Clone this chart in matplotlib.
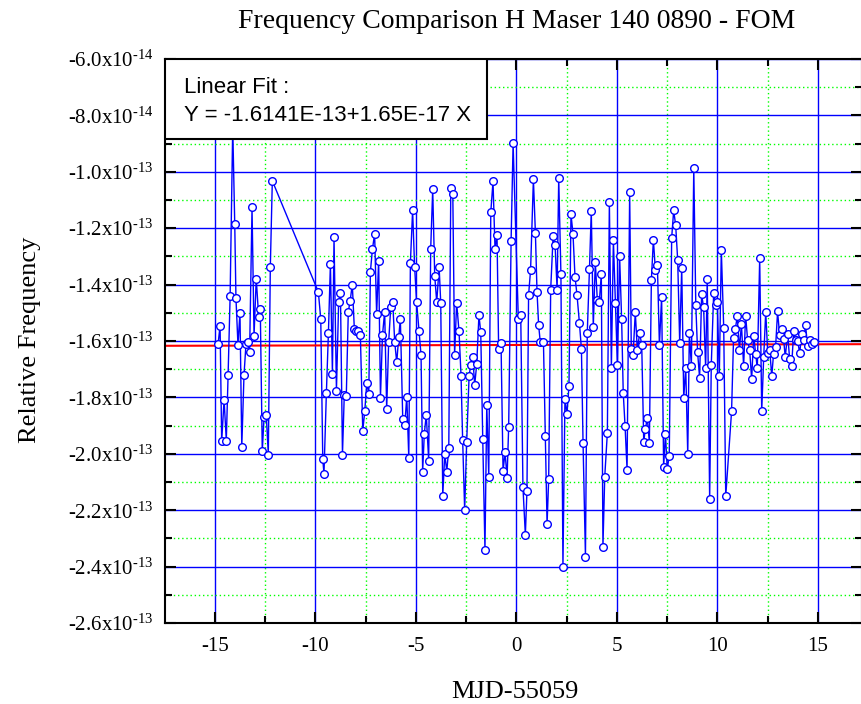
import numpy as np
import matplotlib
matplotlib.use("Agg")
import matplotlib.pyplot as plt
from matplotlib.ticker import MultipleLocator, FuncFormatter
from matplotlib.patches import Rectangle

# Datos: MJD-55059 (dias) y frecuencia relativa (x1e-14)
mjd_offset = [
    -14.84, -14.74, -14.66, -14.54, -14.43, -14.34, -14.24, -14.11, -14.01, -13.95,
    -13.85, -13.75, -13.66, -13.55, -13.45, -13.36, -13.27, -13.15, -13.05, -12.94,
    -12.82, -12.74, -12.64, -12.55, -12.44, -12.34, -12.24, -12.14,
    -9.85, -9.73, -9.63, -9.57, -9.45, -9.35, -9.25, -9.15, -9.07, -8.95,
    -8.84, -8.75, -8.65, -8.56, -8.46, -8.36, -8.27, -8.16, -8.06, -7.97,
    -7.86, -7.76, -7.64, -7.54, -7.44, -7.34, -7.26, -7.16, -7.05, -6.95,
    -6.85, -6.76, -6.66, -6.55, -6.45, -6.35, -6.25, -6.15, -6.05, -5.95,
    -5.85, -5.77, -5.65, -5.55, -5.45, -5.35, -5.27, -5.16, -5.06,
    -4.96, -4.84, -4.74, -4.66, -4.58, -4.48, -4.36, -4.26, -4.16, -4.06,
    -3.96, -3.84, -3.76, -3.66, -3.56, -3.46, -3.36, -3.26, -3.16, -3.07,
    -2.97, -2.85, -2.75, -2.67, -2.57, -2.47, -2.35, -2.27, -2.17, -2.07,
    -1.97, -1.86, -1.77, -1.67, -1.56, -1.47, -1.37, -1.27, -1.16, -1.06,
    -0.96, -0.88, -0.76, -0.66, -0.56, -0.46, -0.38, -0.26, -0.16,
    0.10, 0.22, 0.33, 0.45, 0.53, 0.61, 0.71, 0.85, 0.95, 1.03,
    1.11, 1.19, 1.35, 1.44, 1.53, 1.61, 1.71, 1.83, 1.93, 2.03,
    2.11, 2.22, 2.32, 2.42, 2.52, 2.62, 2.72, 2.82, 2.92, 3.02,
    3.14, 3.24, 3.32, 3.44, 3.53, 3.64, 3.73, 3.83, 3.93, 4.03,
    4.13, 4.23, 4.31, 4.40, 4.53, 4.63, 4.73, 4.83, 4.93,
    5.03, 5.14, 5.24, 5.32, 5.41, 5.51, 5.64, 5.72, 5.81, 5.92,
    6.02, 6.14, 6.24, 6.34, 6.42, 6.52, 6.62, 6.72, 6.82, 6.92,
    7.02, 7.12, 7.23, 7.33, 7.42, 7.51, 7.61, 7.73, 7.83, 7.93,
    8.03, 8.13, 8.23, 8.33, 8.43, 8.53, 8.61, 8.71, 8.83, 8.93,
    9.02, 9.12, 9.22, 9.32, 9.42, 9.50,
    9.62, 9.70, 9.82, 9.92, 10.00, 10.10, 10.20, 10.32, 10.42, 10.71,
    10.81, 10.90, 11.00, 11.10, 11.20, 11.31, 11.41, 11.51, 11.61, 11.71,
    11.81, 11.91, 11.99, 12.11, 12.21, 12.31, 12.41, 12.51, 12.61, 12.71,
    12.80, 12.90, 13.00, 13.10, 13.20, 13.30, 13.38, 13.50, 13.60, 13.70,
    13.80, 13.90, 14.00, 14.10, 14.20, 14.30, 14.39, 14.49, 14.59, 14.69,
    14.81,
]

rel_freq_e14 = [
    -16.11, -15.46, -19.56, -18.08, -19.53, -17.19, -14.42, -8.40, -11.85, -14.47,
    -16.13, -14.99, -19.77, -17.22, -16.10, -16.05, -16.39, -11.26, -15.81, -13.79,
    -15.14, -14.85, -19.91, -18.69, -18.63, -20.03, -13.39, -10.32,
    -14.26, -15.22, -20.20, -20.70, -17.83, -15.73, -13.28, -17.16, -12.32, -17.76,
    -14.62, -14.31, -20.04, -17.90, -17.95, -14.97, -14.58, -14.00, -15.56, -15.66,
    -15.63, -15.78, -19.18, -18.49, -17.49, -17.87, -13.54, -12.75, -12.20, -15.06,
    -13.15, -18.01, -15.80, -14.96, -18.41, -16.03, -14.81, -14.61, -16.04, -16.76,
    -15.85, -15.22, -18.78, -18.99, -17.97, -20.14, -13.22, -11.37, -13.37,
    -14.63, -15.66, -16.50, -20.63, -19.31, -18.61, -20.24, -12.73, -10.62, -13.69,
    -14.62, -13.39, -14.65, -21.50, -20.00, -20.63, -19.79, -10.56, -10.79, -16.50,
    -14.65, -15.66, -17.24, -19.51, -22.00, -19.59, -17.25, -16.85, -16.56, -17.55,
    -16.82, -15.09, -15.68, -19.48, -23.41, -18.28, -20.82, -11.43, -10.34, -12.73,
    -12.25, -16.27, -16.07, -20.61, -19.95, -20.85, -19.04, -12.47, -8.99,
    -15.21, -15.07, -21.18, -22.88, -21.31, -14.37, -13.48, -10.26, -12.18, -14.25,
    -15.43, -16.03, -16.04, -19.37, -22.50, -20.91, -14.18, -12.29, -12.60, -14.18,
    -10.22, -13.64, -24.02, -18.04, -18.60, -17.59, -11.50, -12.20, -13.72, -14.37,
    -15.36, -16.29, -19.60, -23.66, -15.72, -13.44, -11.38, -15.50, -13.20, -14.54,
    -14.62, -13.61, -23.30, -20.81, -19.26, -11.08, -16.95, -12.43, -14.64,
    -16.84, -13.00, -15.22, -17.84, -19.00, -20.56, -10.72, -16.27, -16.50, -14.98,
    -16.31, -15.73, -16.13, -19.57, -19.12, -18.74, -19.60, -13.83, -12.41, -13.49,
    -13.32, -16.14, -14.43, -20.47, -19.29, -20.54, -20.07, -12.34, -11.37, -11.90,
    -13.14, -16.08, -13.40, -18.02, -16.95, -20.02, -15.72, -16.89, -9.88, -14.71,
    -16.40, -17.31, -14.35, -14.81, -16.96, -13.80,
    -21.60, -16.86, -14.30, -14.71, -14.62, -17.24, -12.76, -15.54, -21.51, -18.50,
    -15.88, -15.56, -15.10, -16.33, -15.40, -16.89, -15.10, -15.98, -16.31, -17.36,
    -15.81, -16.46, -16.97, -13.07, -18.50, -16.55, -14.97, -16.43, -16.33, -17.25,
    -16.45, -16.22, -14.95, -15.79, -15.57, -15.93, -16.57, -15.75, -16.64, -16.89,
    -15.66, -15.98, -16.01, -16.43, -15.75, -15.98, -15.43, -16.17, -15.98, -16.11,
    -16.04,
]

# Ajuste lineal indicado en el recuadro
FIT_INTERCEPT = -1.6141e-13
FIT_SLOPE = 1.65e-17

TITLE = "Frequency Comparison H Maser 140 0890 - FOM"
XLABEL = "MJD-55059"
YLABEL = "Relative Frequency"
FIT_TEXT = ["Linear Fit :", "Y = -1.6141E-13+1.65E-17 X"]

XLIM = (-17.48, 17.2)
YLIM = (-2.6e-13, -6.0e-14)

plt.rcParams['font.family'] = ['Liberation Serif', 'DejaVu Serif']
plt.rcParams['axes.unicode_minus'] = False
plt.rcParams['mathtext.fontset'] = 'custom'
plt.rcParams['mathtext.rm'] = 'Liberation Serif'
plt.rcParams['mathtext.it'] = 'Liberation Serif:italic'


def sci_label(v, pos):
    """Etiqueta tipo -6.0x10^-14 (con guion normal)."""
    # Fuera de los limites no se escribe nada
    tol = 1e-17
    if v < YLIM[0] - tol or v > YLIM[1] + tol:
        return ""
    if v == 0:
        return "0"
    exp = int(np.floor(np.log10(abs(v))))
    mant = round(v / 10.0 ** exp, 1)
    if abs(mant) >= 10:
        mant /= 10.0
        exp += 1
    return r"$\text{%.1fx10}^{\text{%d}}$" % (mant, exp)


x = np.array(mjd_offset)
y = np.array(rel_freq_e14) * 1e-14

fig = plt.figure(figsize=(8.61, 7.04), dpi=100)
ax = fig.add_axes([165 / 861, 1 - 623 / 704, 697 / 861, 564 / 704])

ax.set_xlim(*XLIM)
ax.set_ylim(*YLIM)

ax.xaxis.set_major_locator(MultipleLocator(5))
ax.xaxis.set_minor_locator(MultipleLocator(2.5))
ax.yaxis.set_major_locator(MultipleLocator(2e-14))
ax.yaxis.set_minor_locator(MultipleLocator(1e-14))
ax.yaxis.set_major_formatter(FuncFormatter(sci_label))

# Rejilla
ax.grid(True, which='major', color='#0000ff', lw=1.0, ls='-')
ax.grid(True, which='minor', color='#00ff00', lw=1.0, ls=(0, (1, 2)))
ax.set_axisbelow(True)

ax.tick_params(which='both', direction='in', top=True, right=True,
               width=1.5, color='black')
ax.tick_params(which='major', length=8, labelsize=15)
ax.tick_params(axis='x', which='major', pad=10)
ax.tick_params(axis='y', which='major', pad=8)
ax.tick_params(which='minor', length=5)
for sp in ax.spines.values():
    sp.set_linewidth(1.5)
    sp.set_color('black')

# Recta de ajuste
xf = np.array(XLIM)
ax.plot(xf, FIT_INTERCEPT + FIT_SLOPE * xf, color='red', lw=1.5, zorder=2)

# Datos
ax.plot(x, y, color='#0000ff', lw=1.0, marker='o', ms=5.5, mew=1.0,
        mfc='white', mec='#0000ff', zorder=3, clip_on=True)

# Recuadro con el ajuste
ax.add_patch(Rectangle((0, 1 - 80 / 564), 322 / 697, 80 / 564,
                       transform=ax.transAxes, facecolor='white',
                       edgecolor='black', lw=1.5, zorder=5))
ax.text(0.0277, 0.9392, FIT_TEXT[0], transform=ax.transAxes, fontsize=16,
        family='Liberation Sans', va='baseline', ha='left', zorder=6)
ax.text(0.0277, 0.890, FIT_TEXT[1], transform=ax.transAxes, fontsize=16,
        family='Liberation Sans', va='baseline', ha='left', zorder=6)

# Textos
fig.text(517 / 861, 1 - 28 / 704, TITLE, fontsize=20, ha='center', va='baseline')
fig.text(515 / 861, 1 - 698 / 704, XLABEL, fontsize=19, ha='center', va='baseline')
fig.text(30 / 861, 1 - 340 / 704, YLABEL, fontsize=19, ha='center', va='center',
         rotation=90)

fig.savefig("out.png", dpi=100)
